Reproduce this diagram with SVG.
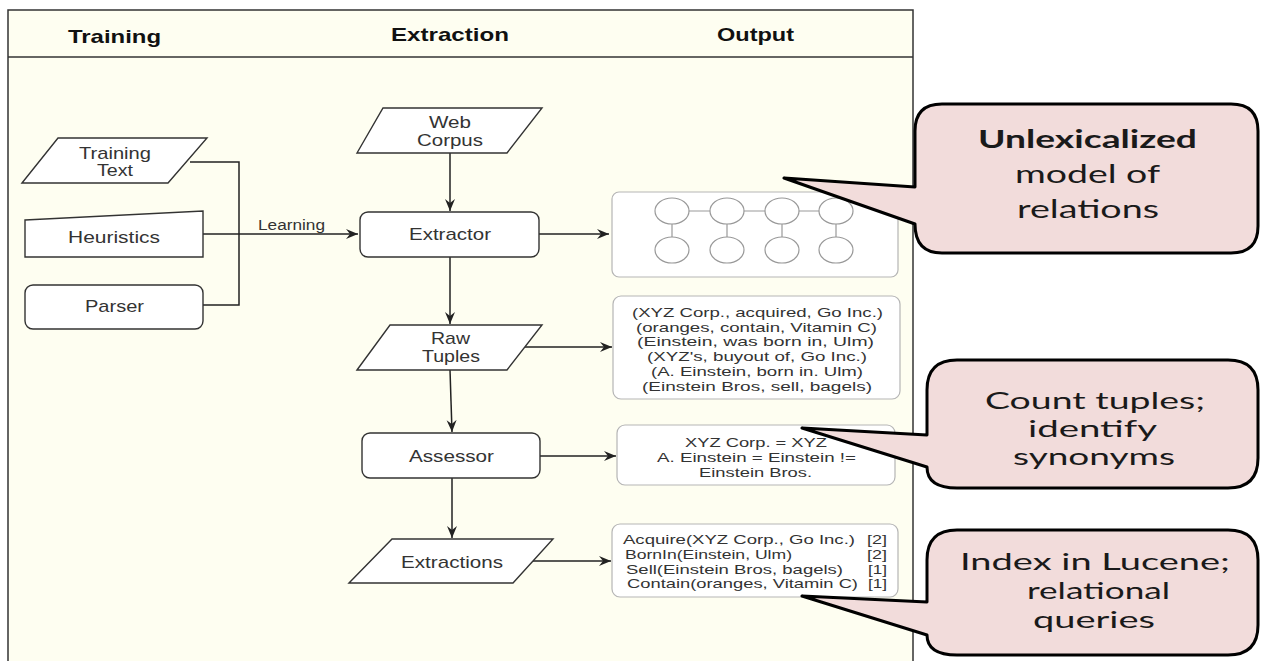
<svg xmlns="http://www.w3.org/2000/svg" width="1261" height="661" viewBox="0 0 1261 661">
<defs>
<marker id="arr" markerUnits="userSpaceOnUse" markerWidth="14" markerHeight="12" refX="12" refY="6" orient="auto">
<path d="M0,1 L12,6 L0,11 L4,6 Z" fill="#222"/>
</marker>
<style>
.node{fill:#fff;stroke:#333;stroke-width:1.4}
.lbl{font-family:"Liberation Sans",Arial,sans-serif;font-size:17px;fill:#333}
.hdr{font-family:"Liberation Sans",Arial,sans-serif;font-size:18.5px;font-weight:bold;fill:#111}
.small{font-family:"Liberation Sans",Arial,sans-serif;font-size:13px;fill:#333}
.edge{fill:none;stroke:#222;stroke-width:1.5}
.obox{fill:#fff;stroke:#b5b5b5;stroke-width:1.2}
.circ{fill:#fff;stroke:#999;stroke-width:1.2}
.clink{stroke:#999;stroke-width:1.2}
.callout{fill:#f2dcdb;stroke:#000;stroke-width:3;stroke-linejoin:round}
.ct{font-family:Lato,"Open Sans",sans-serif;font-size:25px;fill:#1a1a1a}
.ct2{font-family:Lato,"Open Sans",sans-serif;font-size:23px;fill:#1a1a1a}
</style>
</defs>
<rect width="1261" height="661" fill="#fff"/>
<g id="frame">
<rect x="8" y="10" width="905" height="700" fill="#fefef1" stroke="#333" stroke-width="1.5"/>
<line x1="8" y1="57" x2="913" y2="57" stroke="#333" stroke-width="1.5"/>
<text class="hdr" x="68" y="43" textLength="93" lengthAdjust="spacingAndGlyphs">Training</text>
<text class="hdr" x="391" y="41" textLength="118" lengthAdjust="spacingAndGlyphs">Extraction</text>
<text class="hdr" x="717" y="41" textLength="77" lengthAdjust="spacingAndGlyphs">Output</text>
</g>
<g id="connectors">
<polyline class="edge" points="190,162 239,162 239,305 203,305"/>
<line class="edge" x1="203" y1="234" x2="358" y2="234" marker-end="url(#arr)"/>
<text class="lbl" style="font-size:14px" x="258" y="230" textLength="67" lengthAdjust="spacingAndGlyphs">Learning</text>
<line class="edge" x1="450" y1="153" x2="450" y2="211" marker-end="url(#arr)"/>
<line class="edge" x1="450" y1="257" x2="450" y2="324" marker-end="url(#arr)"/>
<line class="edge" x1="539" y1="234" x2="609" y2="234" marker-end="url(#arr)"/>
<line class="edge" x1="525" y1="347" x2="612" y2="347" marker-end="url(#arr)"/>
<line class="edge" x1="450" y1="370" x2="452" y2="432" marker-end="url(#arr)"/>
<line class="edge" x1="540" y1="456" x2="616" y2="456" marker-end="url(#arr)"/>
<line class="edge" x1="452" y1="478" x2="452" y2="538" marker-end="url(#arr)"/>
<line class="edge" x1="533" y1="561" x2="611" y2="561" marker-end="url(#arr)"/>
</g>
<g id="training-text">
<polygon class="node" points="22,183 58,138 207,138 168,183"/>
<text class="lbl" x="79" y="159" textLength="72" lengthAdjust="spacingAndGlyphs">Training</text>
<text class="lbl" x="97" y="176" textLength="36" lengthAdjust="spacingAndGlyphs">Text</text>
</g>
<g id="heuristics">
<polygon class="node" points="25,220 203,211 203,257 25,257"/>
<text class="lbl" x="68" y="243" textLength="92" lengthAdjust="spacingAndGlyphs">Heuristics</text>
</g>
<g id="parser">
<rect class="node" x="25" y="285" width="178" height="44" rx="8"/>
<text class="lbl" x="85" y="312" textLength="59" lengthAdjust="spacingAndGlyphs">Parser</text>
</g>
<g id="web-corpus">
<polygon class="node" points="357,153 383,108 542,108 507,153"/>
<text class="lbl" x="429" y="128" textLength="42" lengthAdjust="spacingAndGlyphs">Web</text>
<text class="lbl" x="417" y="146" textLength="66" lengthAdjust="spacingAndGlyphs">Corpus</text>
</g>
<g id="extractor">
<rect class="node" x="360" y="212" width="179" height="45" rx="8"/>
<text class="lbl" x="409" y="240" textLength="82" lengthAdjust="spacingAndGlyphs">Extractor</text>
</g>
<g id="raw-tuples">
<polygon class="node" points="357,370 390,325 542,325 507,370"/>
<text class="lbl" x="431" y="344" textLength="39" lengthAdjust="spacingAndGlyphs">Raw</text>
<text class="lbl" x="422" y="362" textLength="58" lengthAdjust="spacingAndGlyphs">Tuples</text>
</g>
<g id="assessor">
<rect class="node" x="362" y="433" width="178" height="45" rx="8"/>
<text class="lbl" x="409" y="462" textLength="85" lengthAdjust="spacingAndGlyphs">Assessor</text>
</g>
<g id="extractions">
<polygon class="node" points="349,583 392,539 553,539 513,583"/>
<text class="lbl" x="401" y="568" textLength="102" lengthAdjust="spacingAndGlyphs">Extractions</text>
</g>
<g id="model">
<rect class="obox" x="612" y="192" width="286" height="85" rx="7"/>
<line class="clink" x1="672" y1="211" x2="836" y2="211"/>
<line class="clink" x1="672" y1="211" x2="672" y2="250"/>
<line class="clink" x1="727" y1="211" x2="727" y2="250"/>
<line class="clink" x1="782" y1="211" x2="782" y2="250"/>
<line class="clink" x1="836" y1="211" x2="836" y2="250"/>
<ellipse class="circ" cx="672" cy="211" rx="17" ry="13"/>
<ellipse class="circ" cx="727" cy="211" rx="17" ry="13"/>
<ellipse class="circ" cx="782" cy="211" rx="17" ry="13"/>
<ellipse class="circ" cx="836" cy="211" rx="17" ry="13"/>
<ellipse class="circ" cx="672" cy="250" rx="17" ry="13"/>
<ellipse class="circ" cx="727" cy="250" rx="17" ry="13"/>
<ellipse class="circ" cx="782" cy="250" rx="17" ry="13"/>
<ellipse class="circ" cx="836" cy="250" rx="17" ry="13"/>
</g>
<g id="raw-tuples-output">
<rect class="obox" x="613" y="296" width="287" height="103" rx="8"/>
<text class="small" x="632" y="317" textLength="251" lengthAdjust="spacingAndGlyphs">(XYZ Corp., acquired, Go Inc.)</text>
<text class="small" x="636" y="332" textLength="241" lengthAdjust="spacingAndGlyphs">(oranges, contain, Vitamin C)</text>
<text class="small" x="637" y="346" textLength="237" lengthAdjust="spacingAndGlyphs">(Einstein, was born in, Ulm)</text>
<text class="small" x="647" y="361" textLength="220" lengthAdjust="spacingAndGlyphs">(XYZ's, buyout of, Go Inc.)</text>
<text class="small" x="651" y="376" textLength="212" lengthAdjust="spacingAndGlyphs">(A. Einstein, born in. Ulm)</text>
<text class="small" x="642" y="391" textLength="230" lengthAdjust="spacingAndGlyphs">(Einstein Bros, sell, bagels)</text>
</g>
<g id="assessor-output">
<rect class="obox" x="617" y="425" width="278" height="60" rx="8"/>
<text class="small" x="685" y="447" textLength="142" lengthAdjust="spacingAndGlyphs">XYZ Corp. = XYZ</text>
<text class="small" x="657" y="462" textLength="199" lengthAdjust="spacingAndGlyphs">A. Einstein = Einstein !=</text>
<text class="small" x="699" y="477" textLength="113" lengthAdjust="spacingAndGlyphs">Einstein Bros.</text>
</g>
<g id="extractions-output">
<rect class="obox" x="612" y="524" width="286" height="73" rx="8"/>
<text class="small" x="623" y="544" textLength="232" lengthAdjust="spacingAndGlyphs">Acquire(XYZ Corp., Go Inc.)</text>
<text class="small" x="867" y="544" textLength="20" lengthAdjust="spacingAndGlyphs">[2]</text>
<text class="small" x="625" y="559" textLength="167" lengthAdjust="spacingAndGlyphs">BornIn(Einstein, Ulm)</text>
<text class="small" x="867" y="559" textLength="20" lengthAdjust="spacingAndGlyphs">[2]</text>
<text class="small" x="626" y="574" textLength="217" lengthAdjust="spacingAndGlyphs">Sell(Einstein Bros, bagels)</text>
<text class="small" x="868" y="574" textLength="19" lengthAdjust="spacingAndGlyphs">[1]</text>
<text class="small" x="627" y="588" textLength="231" lengthAdjust="spacingAndGlyphs">Contain(oranges, Vitamin C)</text>
<text class="small" x="868" y="588" textLength="19" lengthAdjust="spacingAndGlyphs">[1]</text>
</g>
<g id="callout-model">
<path class="callout" d="M942,104 H1231 Q1258,104 1258,131 V226 Q1258,253 1231,253 H942 Q915,253 915,224 L784,178 L915,187 V131 Q915,104 942,104 Z"/>
<text class="ct" x="978" y="148" textLength="219" lengthAdjust="spacingAndGlyphs" font-weight="bold">Unlexicalized</text>
<text class="ct" x="1015" y="183" textLength="145" lengthAdjust="spacingAndGlyphs">model of</text>
<text class="ct" x="1017" y="218" textLength="142" lengthAdjust="spacingAndGlyphs">relations</text>
</g>
<g id="callout-assessor">
<path class="callout" d="M957,360 H1228 Q1258,360 1258,390 V458 Q1258,488 1228,488 H957 Q927,488 927,467 L802,428 L927,435 V390 Q927,360 957,360 Z"/>
<text class="ct2" x="985" y="409" textLength="220" lengthAdjust="spacingAndGlyphs">Count tuples;</text>
<text class="ct2" x="1028" y="437" textLength="129" lengthAdjust="spacingAndGlyphs">identify</text>
<text class="ct2" x="1013" y="465" textLength="162" lengthAdjust="spacingAndGlyphs">synonyms</text>
</g>
<g id="callout-index">
<path class="callout" d="M957,530 H1228 Q1258,530 1258,560 V625 Q1258,655 1228,655 H957 Q927,655 927,635 L802,596 L927,602 V560 Q927,530 957,530 Z"/>
<text class="ct2" x="960" y="570" textLength="270" lengthAdjust="spacingAndGlyphs">Index in Lucene;</text>
<text class="ct2" x="1027" y="599" textLength="143" lengthAdjust="spacingAndGlyphs">relational</text>
<text class="ct2" x="1033" y="628" textLength="122" lengthAdjust="spacingAndGlyphs">queries</text>
</g>
</svg>
